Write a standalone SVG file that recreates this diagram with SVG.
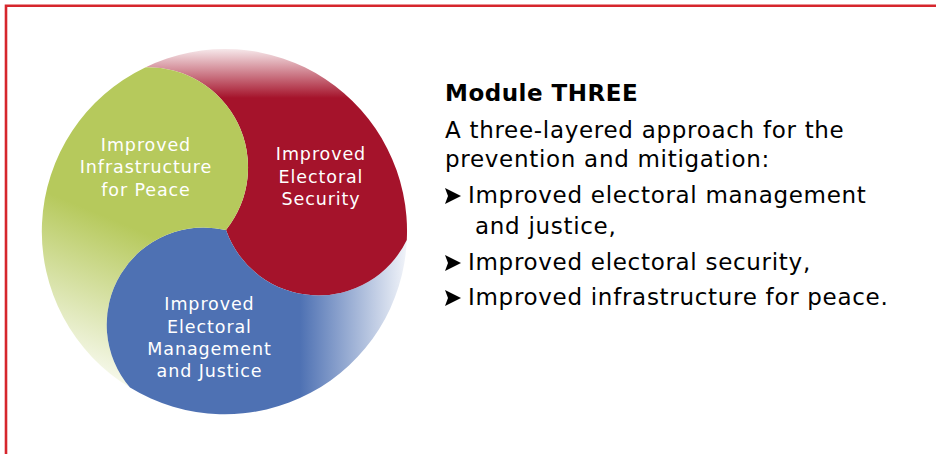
<svg xmlns="http://www.w3.org/2000/svg" width="936" height="454" viewBox="0 0 936 454">
  <defs>
    <style>
      .seg-label { font-family: "DejaVu Sans", Verdana, "Liberation Sans", sans-serif; font-size: 17.5px; letter-spacing: 0.9px; fill: #ffffff; text-anchor: middle; }
      .body { font-family: "DejaVu Sans", Verdana, "Liberation Sans", sans-serif; font-size: 23px; letter-spacing: 0.7px; fill: #000000; }
      .title { font-weight: bold; letter-spacing: 0.5px; }
      .frame { fill: none; stroke: #d6262d; stroke-width: 2.6; }
    </style>
    <!-- soft fades toward the rim of the wheel -->
    <linearGradient id="redFade" gradientUnits="userSpaceOnUse" x1="0" y1="48" x2="0" y2="98">
      <stop offset="0" stop-color="#a5132b" stop-opacity="0.08"/>
      <stop offset="1" stop-color="#a5132b" stop-opacity="1"/>
    </linearGradient>
    <linearGradient id="greenFade" gradientUnits="userSpaceOnUse" x1="150" y1="235" x2="88" y2="385">
      <stop offset="0" stop-color="#b6c95c" stop-opacity="1"/>
      <stop offset="1" stop-color="#b6c95c" stop-opacity="0.04"/>
    </linearGradient>
    <linearGradient id="blueFade" gradientUnits="userSpaceOnUse" x1="300" y1="0" x2="410" y2="0">
      <stop offset="0" stop-color="#4e71b3" stop-opacity="1"/>
      <stop offset="1" stop-color="#4e71b3" stop-opacity="0.05"/>
    </linearGradient>
    <path id="bullet" d="M0,-8 L16,0 L0,8 L3,0 Z" fill="#000000"/>
  </defs>

  <rect width="936" height="454" fill="#ffffff"/>

  <!-- page frame (top and left edges) -->
  <path class="frame" d="M6,454 V5.8 H936"/>

  <!-- three-part swirl wheel -->
  <g id="node-security">
    <path d="M145.2,67.4 A182,182 0 0 1 406.8,239.9 A98,98 0 0 1 226,230 A100,100 0 0 0 145.2,67.4 Z" fill="url(#redFade)"/>
    <text class="seg-label" x="321" y="160">Improved</text>
    <text class="seg-label" x="321" y="182.5">Electoral</text>
    <text class="seg-label" x="321" y="205">Security</text>
  </g>

  <g id="node-management">
    <path d="M406.8,239.9 A182,182 0 0 1 130,387.5 A97,97 0 0 1 226,230 A98,98 0 0 0 406.8,239.9 Z" fill="url(#blueFade)"/>
    <text class="seg-label" x="209.5" y="310">Improved</text>
    <text class="seg-label" x="209.5" y="332.5">Electoral</text>
    <text class="seg-label" x="209.5" y="355">Management</text>
    <text class="seg-label" x="209.5" y="377">and Justice</text>
  </g>

  <g id="node-infrastructure">
    <path d="M145.2,67.4 A182,182 0 0 0 130,387.5 A97,97 0 0 1 226,230 A100,100 0 0 0 145.2,67.4 Z" fill="url(#greenFade)"/>
    <text class="seg-label" x="146" y="150.7">Improved</text>
    <text class="seg-label" x="146" y="173.3">Infrastructure</text>
    <text class="seg-label" x="146" y="195.5">for Peace</text>
  </g>

  <!-- module description -->
  <g id="module-text">
    <text class="body title" x="445" y="101">Module THREE</text>
    <text class="body" x="445" y="137.5">A three-layered approach for the</text>
    <text class="body" x="445" y="167">prevention and mitigation:</text>
    <use href="#bullet" x="445" y="196"/>
    <text class="body" x="468" y="203">Improved electoral management</text>
    <text class="body" x="475" y="233.5">and justice,</text>
    <use href="#bullet" x="445" y="263"/>
    <text class="body" x="468" y="270">Improved electoral security,</text>
    <use href="#bullet" x="445" y="298"/>
    <text class="body" x="468" y="305">Improved infrastructure for peace.</text>
  </g>
</svg>
